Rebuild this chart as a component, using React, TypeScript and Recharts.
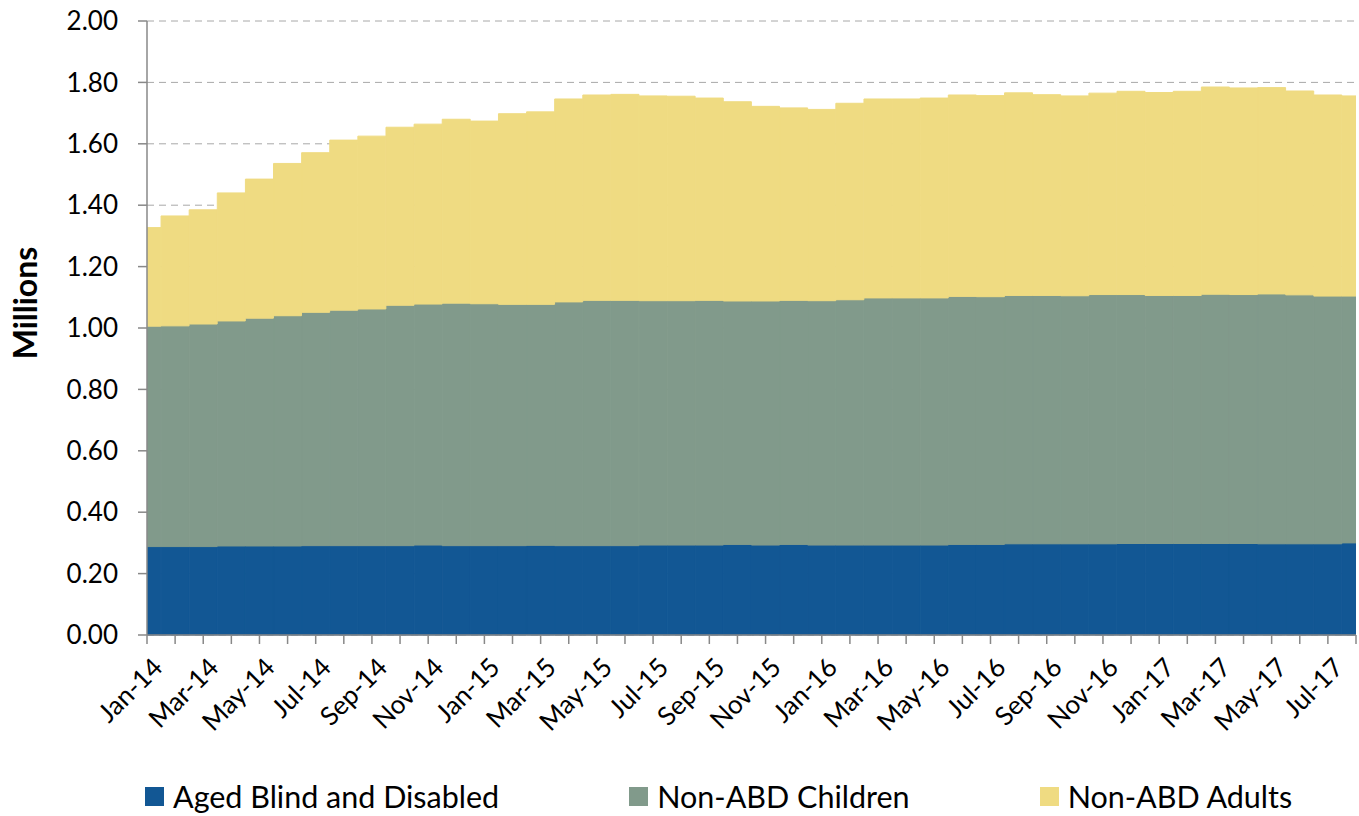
import React from "react"
import { Bar, BarChart, CartesianGrid, Legend, XAxis, YAxis } from "recharts"

const FONT = "Lato, 'Open Sans', sans-serif"

const months = [
  "Jan-14", "Feb-14", "Mar-14", "Apr-14", "May-14", "Jun-14", "Jul-14", "Aug-14", "Sep-14", "Oct-14", "Nov-14", "Dec-14",
  "Jan-15", "Feb-15", "Mar-15", "Apr-15", "May-15", "Jun-15", "Jul-15", "Aug-15", "Sep-15", "Oct-15", "Nov-15", "Dec-15",
  "Jan-16", "Feb-16", "Mar-16", "Apr-16", "May-16", "Jun-16", "Jul-16", "Aug-16", "Sep-16", "Oct-16", "Nov-16", "Dec-16",
  "Jan-17", "Feb-17", "Mar-17", "Apr-17", "May-17", "Jun-17", "Jul-17", "Aug-17",
]

// millions
const agedBlindDisabled = [
  0.288, 0.288, 0.288, 0.290, 0.290, 0.290, 0.291, 0.291, 0.291, 0.291, 0.293, 0.291,
  0.291, 0.291, 0.292, 0.291, 0.291, 0.291, 0.293, 0.293, 0.293, 0.295, 0.293, 0.295,
  0.293, 0.293, 0.293, 0.293, 0.293, 0.295, 0.295, 0.297, 0.297, 0.297, 0.297, 0.298,
  0.298, 0.298, 0.298, 0.298, 0.297, 0.297, 0.297, 0.300,
]

const nonAbdChildren = [
  0.718, 0.719, 0.725, 0.733, 0.742, 0.750, 0.760, 0.767, 0.771, 0.783, 0.785, 0.790,
  0.788, 0.786, 0.785, 0.794, 0.799, 0.799, 0.796, 0.796, 0.797, 0.793, 0.795, 0.795,
  0.796, 0.799, 0.805, 0.805, 0.805, 0.808, 0.807, 0.809, 0.809, 0.808, 0.812, 0.811,
  0.808, 0.808, 0.812, 0.811, 0.814, 0.811, 0.807, 0.804,
]

const nonAbdAdults = [
  0.321, 0.358, 0.372, 0.417, 0.453, 0.496, 0.520, 0.554, 0.563, 0.580, 0.586, 0.599,
  0.595, 0.621, 0.627, 0.661, 0.669, 0.671, 0.667, 0.666, 0.659, 0.649, 0.634, 0.627,
  0.623, 0.640, 0.648, 0.648, 0.651, 0.656, 0.655, 0.660, 0.654, 0.651, 0.656, 0.662,
  0.661, 0.665, 0.675, 0.673, 0.672, 0.664, 0.655, 0.652,
]

const yTicks = [0, 0.2, 0.4, 0.6, 0.8, 1.0, 1.2, 1.4, 1.6, 1.8, 2.0]

const series = [
  { key: "abd", name: "Aged Blind and Disabled", color: "#125794" },
  { key: "children", name: "Non-ABD Children", color: "#819A8B" },
  { key: "adults", name: "Non-ABD Adults", color: "#EFDB82" },
]

const data = months.map((month, i) => ({
  idx: i,
  month,
  abd: agedBlindDisabled[i],
  children: nonAbdChildren[i],
  adults: nonAbdAdults[i],
}))

const xTicks = months.map((_, i) => i)

function LegendRow() {
  return (
    <div
      style={{
        display: "flex",
        alignItems: "center",
        gap: 130,
        paddingLeft: 145,
        fontFamily: FONT,
        fontSize: 30.5,
        color: "#000",
        height: 40,
      }}
    >
      {series.map((s) => (
        <div key={s.key} style={{ display: "flex", alignItems: "center" }}>
          <span style={{ display: "inline-block", width: 19, height: 19, background: s.color, marginRight: 9 }} />
          <span>{s.name}</span>
        </div>
      ))}
    </div>
  )
}

function MillionsLabel() {
  return (
    <text
      x={24}
      y={303}
      transform="rotate(-90 24 303)"
      textAnchor="middle"
      dominantBaseline="central"
      fontFamily={FONT}
      fontWeight="bold"
      fontSize={32}
      fill="#000"
    >
      Millions
    </text>
  )
}

export default function App() {
  return (
    <div style={{ position: "absolute", left: 0, top: 0, width: 1359, height: 816, background: "#fff" }}>
      <BarChart
        width={1359}
        height={816}
        data={data}
        margin={{ top: 21, right: 3, left: 0, bottom: 0 }}
        barCategoryGap={0}
        barGap={0}
      >
        <CartesianGrid vertical={false} stroke="#a8a8a8" strokeDasharray="7 5" />
        <XAxis
          dataKey="idx"
          type="number"
          domain={[0, 43]}
          ticks={xTicks}
          interval={0}
          allowDataOverflow
          height={141}
          stroke="#888888"
          strokeWidth={1.5}
          tickSize={9}
          tickMargin={12}
          angle={-45}
          textAnchor="end"
          dx={4}
          tick={{ fill: "#000", fontSize: 26, fontFamily: FONT }}
          tickFormatter={(i: number) => (i % 2 === 0 ? months[i] : "")}
        />
        <YAxis
          domain={[0, 2]}
          ticks={yTicks}
          interval={0}
          width={147}
          stroke="#888888"
          strokeWidth={1.5}
          tickSize={9}
          tickMargin={20}
          tick={{ fill: "#000", fontSize: 26, fontFamily: FONT }}
          tickFormatter={(v: number) => v.toFixed(2)}
          label={<MillionsLabel />}
        />
        <Legend
          verticalAlign="bottom"
          height={40}
          wrapperStyle={{ left: 0, width: 1359 }}
          content={() => <LegendRow />}
        />
        {series.map((s) => (
          <Bar
            key={s.key}
            dataKey={s.key}
            name={s.name}
            stackId="a"
            fill={s.color}
            stroke={s.color}
            strokeWidth={1}
            isAnimationActive={false}
          />
        ))}
      </BarChart>
    </div>
  )
}
